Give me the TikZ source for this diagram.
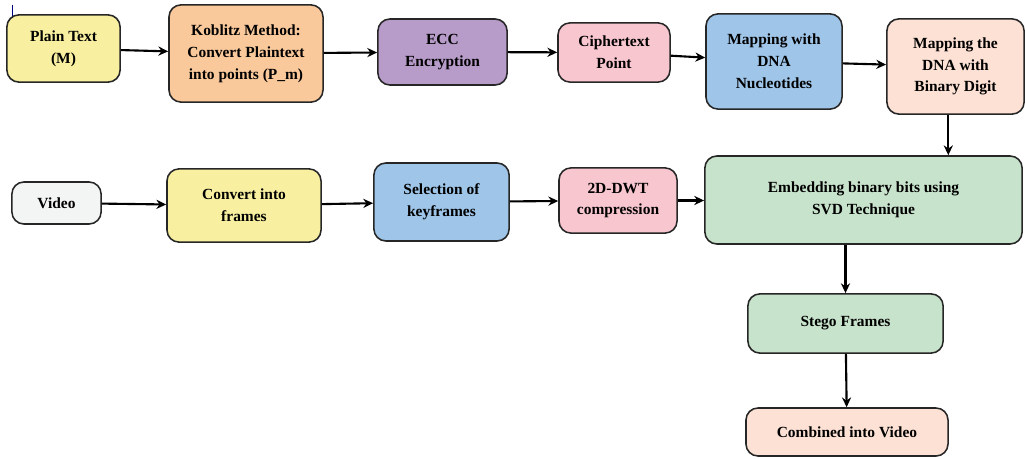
\documentclass[tikz,border=0pt]{standalone}
\usepackage{fontspec}
\setmainfont{Liberation Serif}
\usetikzlibrary{arrows.meta}
\definecolor{cyel}{HTML}{F8F0A0}
\definecolor{cpeach}{HTML}{F9C89B}
\definecolor{cpurp}{HTML}{B79BC9}
\definecolor{cpink}{HTML}{F8C6CF}
\definecolor{cblue}{HTML}{9FC5E8}
\definecolor{clpeach}{HTML}{FCE1D4}
\definecolor{cgrey}{HTML}{F3F4F4}
\definecolor{cgreen}{HTML}{C8E3CB}
\begin{document}
\begin{tikzpicture}[x=0.025cm, y=-0.025cm, font=\fontsize{11}{15.5}\selectfont\bfseries, line join=round, >=Stealth,
blk/.style={draw=black!85, line width=1.1pt, rounded corners=0.3cm, align=center, inner sep=2pt},
arr/.style={-{Stealth[length=7pt,width=6.5pt]}, line width=1.5pt}]
\useasboundingbox (0,0) rectangle (1025,459);
\draw[blue!50!black, line width=0.4pt] (12,5)--(12,28);
% first row
\node[blk, fill=cyel, minimum width=2.83cm, minimum height=1.68cm] (plain) at (63.5,48.5) {Plain Text\\(M)};
\node[blk, fill=cpeach, minimum width=3.85cm, minimum height=2.43cm] (kob) at (246,53.5) {Koblitz Method:\\Convert Plaintext\\into points (P\_m)};
\node[blk, fill=cpurp, minimum width=3.23cm, minimum height=1.65cm] (ecc) at (442.5,52) {ECC\\Encryption};
\node[blk, fill=cpink, minimum width=2.8cm, minimum height=1.48cm] (ciph) at (614,52.5) {Ciphertext\\Point};
\node[blk, fill=cblue, minimum width=3.4cm, minimum height=2.38cm] (dna) at (774,61.5) {Mapping with\\DNA\\Nucleotides};
\node[blk, fill=clpeach, minimum width=3.43cm, minimum height=2.38cm] (bin) at (955.5,66.5) {Mapping the\\DNA with\\Binary Digit};
% second row
\node[blk, fill=cgrey, minimum width=2.23cm, minimum height=1.05cm] (video) at (56.5,203) {Video};
\node[blk, fill=cyel, minimum width=3.85cm, minimum height=1.83cm] (frames) at (244,205.5) {Convert into\\frames};
\node[blk, fill=cblue, minimum width=3.38cm, minimum height=1.95cm] (key) at (441.5,202) {Selection of\\keyframes};
\node[blk, fill=cpink, minimum width=2.95cm, minimum height=1.63cm] (dwt) at (618,200.5) {2D-DWT\\compression};
\node[blk, fill=cgreen, minimum width=7.93cm, minimum height=2.2cm] (emb) at (863.5,200) {Embedding binary bits using\\SVD Technique};
% output
\node[blk, fill=cgreen, minimum width=4.88cm, minimum height=1.48cm] (stego) at (845.5,323.5) {Stego Frames};
\node[blk, fill=clpeach, minimum width=5.05cm, minimum height=1.2cm] (comb) at (847,432) {Combined into Video};
\draw[arr] (plain)--(kob);
\draw[arr] (kob)--(ecc);
\draw[arr] (ecc)--(ciph);
\draw[arr] (ciph)--(dna);
\draw[arr] (dna)--(bin);
\draw[arr] ([xshift=-0.18cm]bin.south)--([xshift=-0.18cm]bin.south |- emb.north);
\draw[arr] (video)--(frames);
\draw[arr] (frames)--(key);
\draw[arr] (key)--(dwt);
\draw[arr] (dwt)--(emb.west |- dwt);
\draw[arr] (emb.south -| stego.north)--(stego.north);
\draw[arr] (stego)--(comb);
\end{tikzpicture}
\end{document}
